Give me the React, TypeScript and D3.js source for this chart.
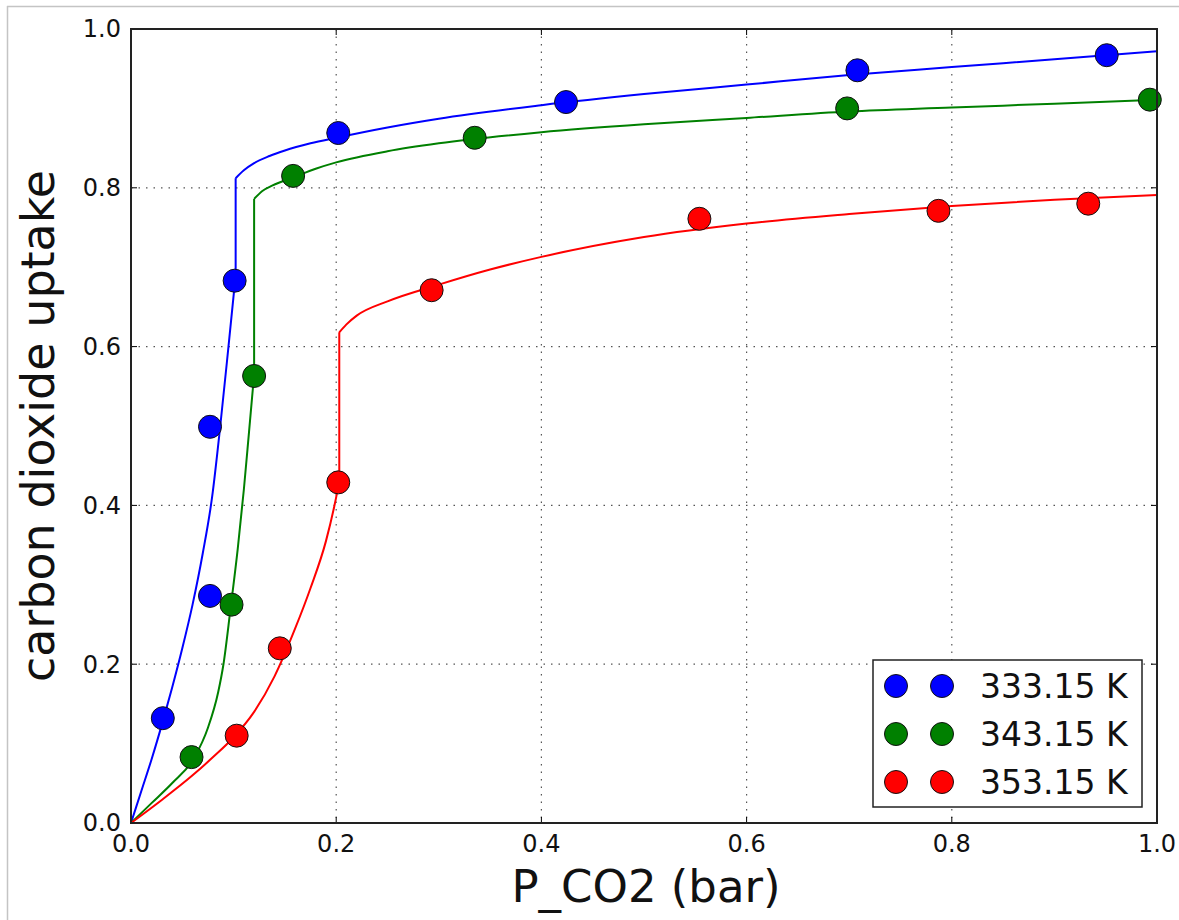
import React from "react";
import * as d3 from "d3";

const W = 1179;
const H = 920;

const xTicks = [0.0, 0.2, 0.4, 0.6, 0.8, 1.0];
const yTicks = [0.0, 0.2, 0.4, 0.6, 0.8, 1.0];

const seriesNames = ["333.15 K", "343.15 K", "353.15 K"];
const seriesColors = ["#0000ff", "#008000", "#ff0000"];

// measured points
const pts333X = [0.031, 0.077, 0.077, 0.101, 0.202, 0.424, 0.708, 0.951];
const pts333Y = [0.132, 0.286, 0.499, 0.683, 0.869, 0.908, 0.948, 0.967];
const pts343X = [0.059, 0.098, 0.120, 0.158, 0.335, 0.698, 0.993];
const pts343Y = [0.083, 0.275, 0.563, 0.815, 0.863, 0.900, 0.911];
const pts353X = [0.103, 0.145, 0.202, 0.293, 0.554, 0.787, 0.933];
const pts353Y = [0.110, 0.220, 0.429, 0.671, 0.761, 0.771, 0.780];

// fitted curves; the repeated x value marks the vertical jump
const fit333X = [0, 0.01, 0.02, 0.031, 0.04, 0.05, 0.06, 0.07, 0.079, 0.087, 0.095, 0.102, 0.102, 0.11, 0.12, 0.135, 0.15, 0.175, 0.2, 0.25, 0.3, 0.4, 0.5, 0.6, 0.7, 0.8, 0.9, 1.0];
const fit333Y = [0, 0.04, 0.08, 0.128, 0.17, 0.22, 0.275, 0.34, 0.41, 0.5, 0.6, 0.69, 0.812, 0.822, 0.831, 0.84, 0.847, 0.856, 0.863, 0.876, 0.887, 0.904, 0.918, 0.93, 0.942, 0.952, 0.962, 0.972];
const fit343X = [0, 0.02, 0.04, 0.062, 0.075, 0.085, 0.09, 0.097, 0.104, 0.110, 0.115, 0.120, 0.120, 0.128, 0.138, 0.158, 0.18, 0.2, 0.25, 0.3, 0.4, 0.5, 0.6, 0.7, 0.8, 0.9, 1.0];
const fit343Y = [0, 0.025, 0.05, 0.083, 0.12, 0.165, 0.199, 0.27, 0.345, 0.42, 0.492, 0.565, 0.786, 0.796, 0.803, 0.813, 0.824, 0.832, 0.846, 0.856, 0.870, 0.880, 0.888, 0.896, 0.901, 0.906, 0.911];
const fit353X = [0, 0.03, 0.06, 0.08, 0.10, 0.12, 0.14, 0.16, 0.175, 0.19, 0.198, 0.203, 0.203, 0.21, 0.22, 0.25, 0.3, 0.35, 0.4, 0.5, 0.6, 0.7, 0.8, 0.9, 1.0];
const fit353Y = [0, 0.029, 0.060, 0.083, 0.108, 0.140, 0.185, 0.245, 0.296, 0.355, 0.398, 0.43, 0.618, 0.628, 0.639, 0.657, 0.678, 0.697, 0.713, 0.738, 0.755, 0.767, 0.777, 0.785, 0.791];

const ptsX = [pts333X, pts343X, pts353X];
const ptsY = [pts333Y, pts343Y, pts353Y];
const fitX = [fit333X, fit343X, fit353X];
const fitY = [fit333Y, fit343Y, fit353Y];

const FONT = "'DejaVu Sans', sans-serif";

export default function App() {
  const left = 131, right = 1157, top = 29, bottom = 823;
  const x = d3.scaleLinear().domain([0, 1]).range([left, right]);
  const y = d3.scaleLinear().domain([0, 1]).range([bottom, top]);
  const smooth = d3.line<[number, number]>().x((d) => x(d[0])).y((d) => y(d[1])).curve(d3.curveMonotoneX);
  const straight = d3.line<[number, number]>().x((d) => x(d[0])).y((d) => y(d[1]));

  const curvePath = (xs: number[], ys: number[]) => {
    const pts: [number, number][] = xs.map((v, j) => [v, ys[j]]);
    let k = 1;
    while (k < pts.length && pts[k][0] !== pts[k - 1][0]) k++;
    const lower = pts.slice(0, k);
    const upper = pts.slice(k);
    return (smooth(lower) || "") + (straight([pts[k - 1], pts[k]]) || "") + (smooth(upper) || "");
  };

  const legX = 873, legY = 660, legW = 269, legH = 147;

  return (
    <svg width={W} height={H} style={{ position: "absolute", left: 0, top: 0, background: "#fff" }}>
      <rect x={0} y={0} width={W} height={H} fill="#fff" />
      {/* outer frame */}
      <line x1={7} y1={6.5} x2={W} y2={6.5} stroke="#c4c4c4" strokeWidth={1.5} />
      <line x1={7.5} y1={6} x2={7.5} y2={H} stroke="#c4c4c4" strokeWidth={1.5} />

      {/* grid */}
      {xTicks.slice(1, -1).map((t) => (
        <line key={"gx" + t} x1={x(t)} x2={x(t)} y1={top} y2={bottom} stroke="#555" strokeWidth={1.2} strokeDasharray="1.5,6" />
      ))}
      {yTicks.slice(1, -1).map((t) => (
        <line key={"gy" + t} y1={y(t)} y2={y(t)} x1={left} x2={right} stroke="#555" strokeWidth={1.2} strokeDasharray="1.5,6" />
      ))}

      {/* curves */}
      {fitX.map((xs, i) => (
        <path key={"c" + i} d={curvePath(xs, fitY[i])} fill="none" stroke={seriesColors[i]} strokeWidth={2} />
      ))}

      {/* points */}
      {ptsX.map((xs, i) =>
        xs.map((v, j) => (
          <circle key={"p" + i + "_" + j} cx={x(v)} cy={y(ptsY[i][j])} r={11.5} fill={seriesColors[i]} stroke="#111" strokeWidth={1} />
        ))
      )}

      {/* ticks */}
      {xTicks.map((t) => (
        <g key={"tx" + t}>
          <line x1={x(t)} x2={x(t)} y1={bottom} y2={bottom - 6} stroke="#000" strokeWidth={1} />
          <line x1={x(t)} x2={x(t)} y1={top} y2={top + 6} stroke="#000" strokeWidth={1} />
          <text x={x(t)} y={852} textAnchor="middle" fontFamily={FONT} fontSize={24} fill="#111">{t.toFixed(1)}</text>
        </g>
      ))}
      {yTicks.map((t) => (
        <g key={"ty" + t}>
          <line y1={y(t)} y2={y(t)} x1={left} x2={left + 6} stroke="#000" strokeWidth={1} />
          <line y1={y(t)} y2={y(t)} x1={right} x2={right - 6} stroke="#000" strokeWidth={1} />
          <text x={121} y={y(t)} dy="0.35em" textAnchor="end" fontFamily={FONT} fontSize={24} fill="#111">{t.toFixed(1)}</text>
        </g>
      ))}

      {/* spine */}
      <rect x={left} y={top} width={right - left} height={bottom - top} fill="none" stroke="#222" strokeWidth={2} />

      {/* legend */}
      <rect x={legX} y={legY} width={legW} height={legH} fill="#fff" stroke="#222" strokeWidth={1.5} />
      {seriesNames.map((name, i) => {
        const cy = 686 + i * 48;
        return (
          <g key={"l" + i}>
            <circle cx={896} cy={cy} r={11.5} fill={seriesColors[i]} stroke="#111" strokeWidth={1} />
            <circle cx={942} cy={cy} r={11.5} fill={seriesColors[i]} stroke="#111" strokeWidth={1} />
            <text x={980} y={cy} dy="0.36em" fontFamily={FONT} fontSize={33} fill="#111">{name}</text>
          </g>
        );
      })}

      {/* axis labels */}
      <text x={646} y={902} textAnchor="middle" fontFamily={FONT} fontSize={45} fill="#111">P_CO2 (bar)</text>
      <text transform="translate(54,426) rotate(-90)" textAnchor="middle" fontFamily={FONT} fontSize={46} fill="#111">carbon dioxide uptake</text>
    </svg>
  );
}
